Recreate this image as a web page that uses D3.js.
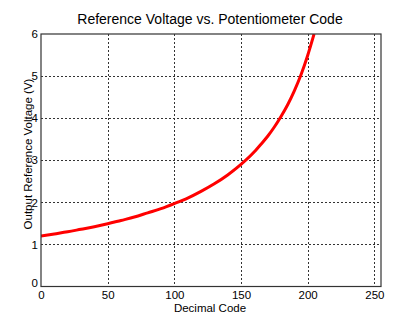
<!DOCTYPE html>
<html><head><meta charset="utf-8">
<script src="https://cdn.jsdelivr.net/npm/d3@7"></script>
<style>body{margin:0;background:#fff;}svg{display:block;font-family:"Liberation Sans",Arial,sans-serif;}</style>
</head><body>
<svg id="c" width="400" height="326"></svg>
<script>
const codes = [0,10,20,30,40,50,60,70,80,90,100,110,120,130,140,150,160,165,170,175,180,185,190,195,200,204.8];
const volts = [1.20,1.25,1.30,1.36,1.42,1.49,1.57,1.65,1.75,1.85,1.97,2.10,2.26,2.44,2.65,2.90,3.20,3.38,3.57,3.79,4.04,4.32,4.65,5.03,5.49,6.0];
const xTicks = [0,50,100,150,200,250];
const yTicks = [0,1,2,3,4,5,6];
const title = "Reference Voltage vs. Potentiometer Code";
const xLabel = "Decimal Code";
const yLabel = "Output Reference Voltage (V)";

const svg = d3.select("#c");
const L=41, R=381, T=34, B=286.5;
const x = d3.scaleLinear().domain([0,255]).range([L,R]);
const y = d3.scaleLinear().domain([0,6]).range([B,T]);

// grid
const g = svg.append("g");
g.selectAll("line.vx").data(xTicks.filter(d=>d>0)).enter().append("line")
 .attr("x1",d=>Math.round(x(d))+0.5).attr("x2",d=>Math.round(x(d))+0.5).attr("y1",T).attr("y2",B)
 .attr("stroke","#333").attr("stroke-width",1).attr("stroke-dasharray","2,2");
g.selectAll("line.hy").data(yTicks.filter(d=>d>0&&d<6)).enter().append("line")
 .attr("y1",d=>Math.round(y(d))+0.5).attr("y2",d=>Math.round(y(d))+0.5).attr("x1",L).attr("x2",R)
 .attr("stroke","#333").attr("stroke-width",1).attr("stroke-dasharray","2,2");

// curve
const data = codes.map((c,i)=>({c, v:volts[i]}));
svg.append("defs").append("clipPath").attr("id","clip").append("rect")
 .attr("x",L).attr("y",T).attr("width",R-L).attr("height",B-T);
svg.append("path").datum(data)
 .attr("clip-path","url(#clip)")
 .attr("d", d3.line().x(d=>x(d.c)).y(d=>y(d.v)).curve(d3.curveMonotoneX))
 .attr("fill","none").attr("stroke","#ff0000").attr("stroke-width",3);

// frame
svg.append("rect").attr("x",L).attr("y",T).attr("width",R-L).attr("height",B-T)
 .attr("fill","none").attr("stroke","#333").attr("stroke-width",1.2);

// axes tick labels
const xa = d3.axisBottom(x).tickValues(xTicks).tickFormat(d3.format("d")).tickSize(0).tickPadding(4);
const gx = svg.append("g").attr("transform",`translate(0,${B})`).call(xa);
gx.select(".domain").remove();
gx.selectAll("text").attr("font-size",11.5).attr("fill","#000").attr("font-family","Liberation Sans, Arial, sans-serif");

const ya = d3.axisLeft(y).tickValues(yTicks).tickFormat(d3.format("d")).tickSize(0).tickPadding(3);
const gy = svg.append("g").attr("transform",`translate(${L},0)`).call(ya);
gy.select(".domain").remove();
gy.selectAll("text").attr("font-size",11.5).attr("fill","#000").attr("font-family","Liberation Sans, Arial, sans-serif");
gy.selectAll(".tick").filter(d=>d===0).select("text").attr("dy","0.0em");

// labels
svg.append("text").attr("x",210).attr("y",24).attr("text-anchor","middle")
 .attr("font-size",14).attr("fill","#000").text(title);
svg.append("text").attr("x",210).attr("y",312).attr("text-anchor","middle")
 .attr("font-size",11.5).attr("fill","#000").text(xLabel);
svg.append("text").attr("transform",`translate(32,154) rotate(-90)`).attr("text-anchor","middle")
 .attr("font-size",11.5).attr("fill","#000").text(yLabel);
</script>
</body></html>
